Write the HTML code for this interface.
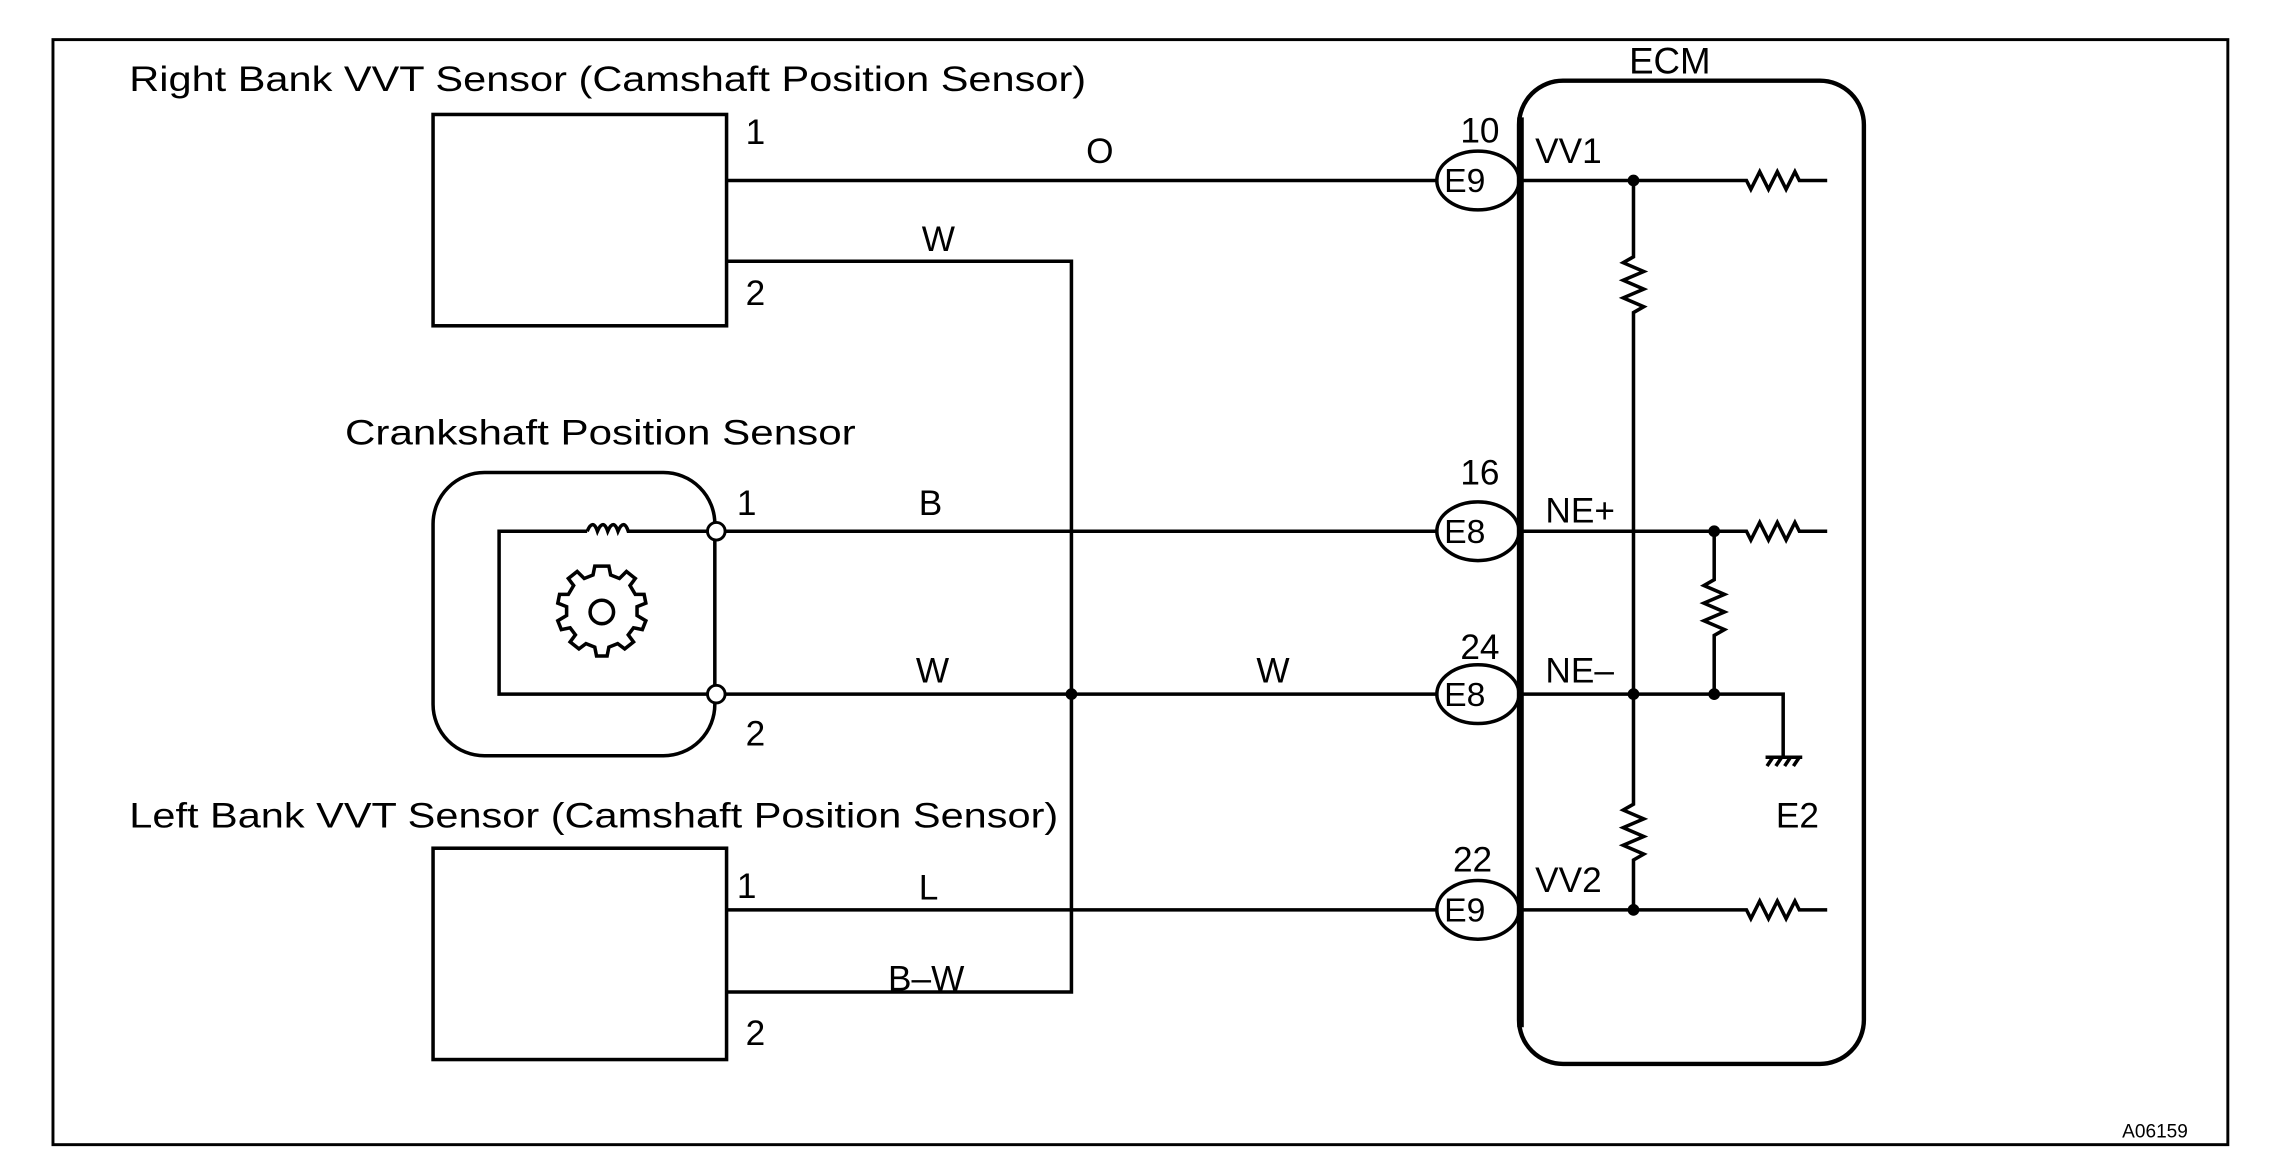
<!DOCTYPE html>
<html><head><meta charset="utf-8"><style>
html,body{margin:0;padding:0;background:#fff;}
svg{display:block;}
text{font-family:"Liberation Sans",sans-serif;fill:#000;}
</style></head><body>
<svg width="2272" height="1152" viewBox="0 0 1548 785" xmlns="http://www.w3.org/2000/svg">
<rect x="0" y="0" width="1548" height="785" fill="#fff"/>
<rect x="36" y="27" width="1482" height="753" fill="none" stroke="#000" stroke-width="2"/>
<g stroke="#000" stroke-width="2.4" fill="none">
<rect x="295" y="78" width="200" height="144"/>
<rect x="295" y="578" width="200" height="144"/>
<rect x="295" y="322" width="192" height="193" rx="35"/>
<path d="M487 362 H428 q-3 -9 -7 0 q-3 -9 -7 0 q-3 -9 -7 0 q-3 -9 -7 0 M400 362 H340 V473 H487"/>
<circle cx="410" cy="417" r="8"/>
<g transform="translate(410 417) scale(1.2)">
<path d="M0 -26 l4 0 l1 5 l5 2 l4 -4 l5 4 l-3 4 l3 5 l5 0 l1 5 l-5 2 l0 5 l5 3 l-2 5 l-5 -1 l-3 4 l3 4 l-5 4 l-4 -3 l-5 2 l-1 5 l-6 0 l-1 -5 l-5 -2 l-4 3 l-5 -4 l3 -4 l-3 -4 l-5 1 l-2 -5 l5 -3 l0 -5 l-5 -2 l1 -5 l5 0 l3 -5 l-3 -4 l5 -4 l4 4 l5 -2 l1 -5 z" stroke-width="2"/>
</g>
<path d="M495 123 H979"/>
<path d="M495 178 H730 V676 H495"/>
<path d="M494 362 H979"/>
<path d="M494 473 H979"/>
<path d="M495 620 H979"/>
<ellipse cx="1007" cy="123" rx="28" ry="20"/>
<ellipse cx="1007" cy="362" rx="28" ry="20"/>
<ellipse cx="1007" cy="473" rx="28" ry="20"/>
<ellipse cx="1007" cy="620" rx="28" ry="20"/>
<rect x="1035" y="55" width="235" height="670" rx="30" stroke-width="3"/>
<path d="M1036 80 V700" stroke-width="4.5"/>
<path d="M1035 123 H1190 l3 6 l6 -12 l6 12 l6 -12 l6 12 l6 -12 l3 6 H1245"/>
<path d="M1035 362 H1190 l3 6 l6 -12 l6 12 l6 -12 l6 12 l6 -12 l3 6 H1245"/>
<path d="M1035 620 H1190 l3 6 l6 -12 l6 12 l6 -12 l6 12 l6 -12 l3 6 H1245"/>
<path d="M1035 473 H1215 V515"/>
<path d="M1113 123 V175 l-7 4 l14 6 l-14 6 l14 6 l-14 6 l14 6 l-7 4 V548 l-7 4 l14 6 l-14 6 l14 6 l-14 6 l14 6 l-7 4 V620"/>
<path d="M1168 362 V395 l-7 4 l14 6 l-14 6 l14 6 l-14 6 l14 6 l-7 4 V473"/>
<path d="M1203 516 H1228 M1208 516 l-4 6 M1214 516 l-4 6 M1220 516 l-4 6 M1226 516 l-4 6"/>
</g>
<g fill="#fff" stroke="#000" stroke-width="2">
<circle cx="488" cy="362" r="6"/>
<circle cx="488" cy="473" r="6"/>
</g>
<g fill="#000">
<circle cx="730" cy="473" r="4"/>
<circle cx="1113" cy="123" r="4"/>
<circle cx="1113" cy="473" r="4"/>
<circle cx="1113" cy="620" r="4"/>
<circle cx="1168" cy="362" r="4"/>
<circle cx="1168" cy="473" r="4"/>
</g>
<g font-size="24">
<text x="88" y="62" textLength="652" lengthAdjust="spacingAndGlyphs">Right Bank VVT Sensor (Camshaft Position Sensor)</text>
<text x="235" y="303" textLength="348" lengthAdjust="spacingAndGlyphs">Crankshaft Position Sensor</text>
<text x="88" y="564" textLength="633" lengthAdjust="spacingAndGlyphs">Left Bank VVT Sensor (Camshaft Position Sensor)</text>
<text x="508" y="98">1</text><text x="508" y="208">2</text>
<text x="502" y="351">1</text><text x="508" y="508">2</text>
<text x="502" y="612">1</text><text x="508" y="712">2</text>
<text x="740" y="111">O</text>
<text x="628" y="171">W</text>
<text x="626" y="351">B</text>
<text x="624" y="465">W</text>
<text x="856" y="465">W</text>
<text x="626" y="613">L</text>
<text x="605" y="675">B–W</text>
<text x="1110" y="50" font-size="25">ECM</text>
<text x="995" y="97">10</text>
<text x="995" y="330">16</text>
<text x="995" y="449">24</text>
<text x="990" y="594">22</text>
<text x="1046" y="111">VV1</text>
<text x="1053" y="356">NE+</text>
<text x="1053" y="465">NE–</text>
<text x="1046" y="608">VV2</text>
<text x="1210" y="564">E2</text>
</g>
<g font-size="23">
<text x="984" y="131">E9</text>
<text x="984" y="370">E8</text>
<text x="984" y="481">E8</text>
<text x="984" y="628">E9</text>
</g>
<text x="1446" y="775" font-size="13">A06159</text>
</svg>
</body></html>
